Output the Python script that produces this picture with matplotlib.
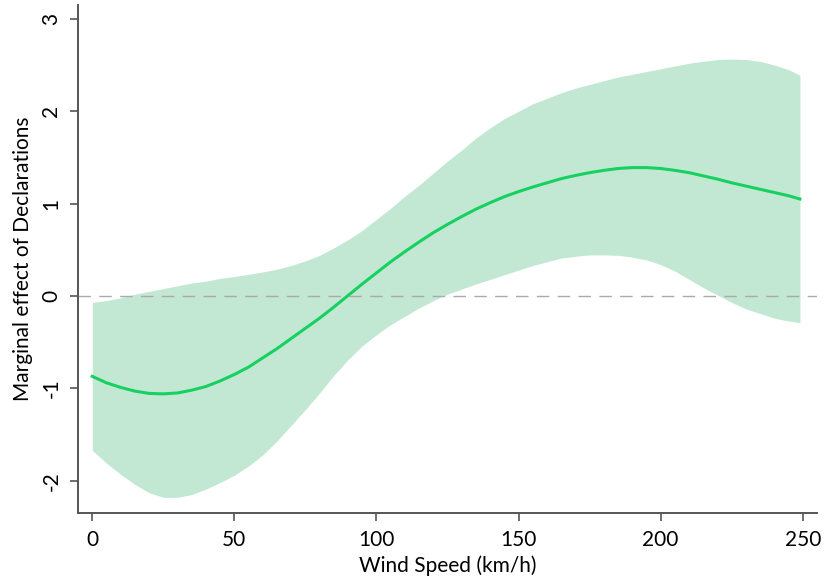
# Marginal effect of Declarations across wind speed, with confidence band.

import matplotlib.pyplot as plt

plt.rcParams["font.family"] = ["Lato", "DejaVu Sans"]

# --- Data --------------------------------------------------------------------
wind_speed = [0, 5, 10, 15, 20, 25, 30, 35, 40, 45, 50, 55, 60, 65, 70, 75,
              80, 85, 90, 95, 100, 105, 110, 115, 120, 125, 130, 135, 140,
              145, 150, 155, 160, 165, 170, 175, 180, 185, 190, 195, 200,
              205, 210, 215, 220, 225, 230, 235, 240, 245, 249]
effect = [-0.87, -0.94, -0.99, -1.03, -1.055, -1.06, -1.05, -1.02, -0.98,
          -0.92, -0.85, -0.77, -0.67, -0.57, -0.46, -0.35, -0.24, -0.12,
          0.005, 0.13, 0.25, 0.37, 0.48, 0.585, 0.685, 0.775, 0.86, 0.94,
          1.01, 1.075, 1.13, 1.18, 1.225, 1.27, 1.305, 1.335, 1.36, 1.38,
          1.39, 1.39, 1.38, 1.36, 1.335, 1.30, 1.265, 1.225, 1.19, 1.155,
          1.12, 1.085, 1.05]
ci_upper = [-0.07, -0.05, -0.02, 0.02, 0.05, 0.08, 0.11, 0.14, 0.16, 0.19,
            0.21, 0.235, 0.26, 0.29, 0.33, 0.38, 0.44, 0.52, 0.61, 0.71,
            0.83, 0.95, 1.08, 1.20, 1.33, 1.46, 1.58, 1.71, 1.82, 1.92,
            2.00, 2.08, 2.14, 2.20, 2.25, 2.29, 2.33, 2.37, 2.40, 2.43,
            2.46, 2.49, 2.52, 2.54, 2.56, 2.565, 2.56, 2.54, 2.50, 2.45, 2.39]
ci_lower = [-1.67, -1.81, -1.93, -2.04, -2.13, -2.18, -2.18, -2.15, -2.09,
            -2.02, -1.94, -1.84, -1.72, -1.57, -1.40, -1.23, -1.05, -0.86,
            -0.69, -0.54, -0.42, -0.31, -0.22, -0.13, -0.05, 0.02, 0.075,
            0.13, 0.18, 0.23, 0.28, 0.33, 0.37, 0.41, 0.43, 0.445, 0.445,
            0.44, 0.42, 0.39, 0.34, 0.27, 0.18, 0.09, 0.01, -0.07, -0.14,
            -0.19, -0.24, -0.27, -0.29]

x_ticks = [0, 50, 100, 150, 200, 250]
y_ticks = [-2, -1, 0, 1, 2, 3]

# --- Style -------------------------------------------------------------------
LINE_COLOR = "#16d160"
BAND_COLOR = "#c2e8d3"
AXIS_COLOR = "#555555"

fig = plt.figure(figsize=(8.24, 5.83), dpi=100)
ax = fig.add_axes([0.0947, 0.12, 0.8968, 0.8714])

ax.fill_between(wind_speed, ci_lower, ci_upper, color=BAND_COLOR, linewidth=0)
ax.axhline(0, color="#aaaaaa", linewidth=1, dashes=(9, 6))
ax.plot(wind_speed, effect, color=LINE_COLOR, linewidth=2.2)

ax.set_xlim(-5, 255)
ax.set_ylim(-2.35, 3.15)
ax.set_xticks(x_ticks)
ax.set_yticks(y_ticks)
ax.set_yticklabels([str(v) for v in y_ticks], rotation=90, va="center")

for side in ("top", "right"):
    ax.spines[side].set_visible(False)
for side in ("left", "bottom"):
    ax.spines[side].set_color(AXIS_COLOR)
    ax.spines[side].set_linewidth(1.4)

ax.tick_params(axis="both", colors=AXIS_COLOR, labelcolor="black",
               length=6, width=1.2, labelsize=15, pad=6)

ax.set_xlabel("Wind Speed (km/h)", fontsize=15, labelpad=4)
ax.set_ylabel("Marginal effect of Declarations", fontsize=15, labelpad=6)

fig.savefig("out.png", dpi=100)
